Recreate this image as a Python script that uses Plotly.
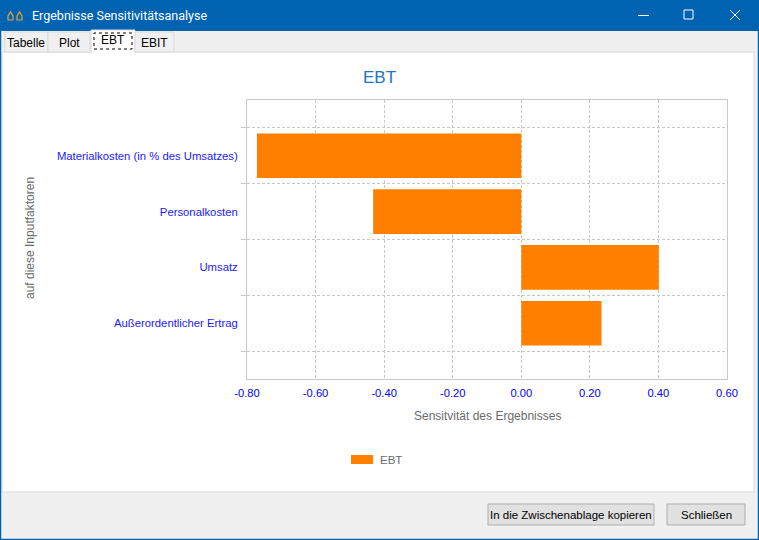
import plotly.graph_objects as go

# ---------------- data ----------------
categories = ["Außerordentlicher Ertrag", "Umsatz", "Personalkosten",
              "Materialkosten (in % des Umsatzes)"]
ebt_values = [0.234, 0.401, -0.432, -0.771]
series_name = "EBT"
x_ticks = [-0.8, -0.6, -0.4, -0.2, 0.0, 0.2, 0.4, 0.6]
x_tick_labels = [f"{v:.2f}" for v in x_ticks]
chart_title = "EBT"
x_title = "Sensitvität des Ergebnisses"
y_title = "auf diese Inputfaktoren"
window_title = "Ergebnisse Sensitivitätsanalyse"
tabs = ["Tabelle", "Plot", "EBT", "EBIT"]
buttons = ["In die Zwischenablage kopieren", "Schließen"]

W, H = 759, 540


def px(x):
    return x / W


def py(y):
    return 1 - y / H


fig = go.Figure()
fig.add_trace(go.Bar(
    x=ebt_values, y=categories, orientation="h", name=series_name,
    marker=dict(color="#ff8000", line=dict(width=0)), width=0.8,
    showlegend=False, hoverinfo="x+y",
))

shapes = []
annotations = []


def rect(x0, y0, x1, y1, fill, line=None, lw=1, dash=None, layer="below"):
    d = dict(type="rect", xref="paper", yref="paper",
             x0=px(x0), x1=px(x1), y0=py(y1), y1=py(y0),
             fillcolor=fill, layer=layer,
             line=dict(width=lw if line else 0, color=line or "rgba(0,0,0,0)"))
    if dash:
        d["line"]["dash"] = dash
    shapes.append(d)


def line(x0, y0, x1, y1, color, w=1, layer="above"):
    shapes.append(dict(type="line", xref="paper", yref="paper",
                       x0=px(x0), x1=px(x1), y0=py(y0), y1=py(y1),
                       line=dict(color=color, width=w), layer=layer))


def text(x, y, s, size=12, color="black", family="Liberation Sans, Arial",
         xa="center", ya="middle", angle=0):
    annotations.append(dict(xref="paper", yref="paper", x=px(x), y=py(y),
                            text=s, showarrow=False, xanchor=xa, yanchor=ya,
                            textangle=angle,
                            font=dict(size=size, color=color, family=family)))


# window chrome
rect(0, 0, W, 31, "#0063b1")
rect(2, 52, 754, 492, "white", "#dadada")
# tabs
tab_x = [(5, 48), (48, 90), (91, 135), (135, 174)]
for t, (a, b) in zip(tabs, tab_x):
    if t == "EBT":
        rect(a, 30, b, 53, "white", "#d9d9d9")
        rect(a + 1, 50, b - 1, 54, "white")
        rect(a + 3, 33, b - 3, 49, "rgba(0,0,0,0)", "black", 1, "dot")
        text((a + b) / 2, 40.5, t, 12)
    else:
        rect(a, 32, b, 52, "#f0f0f0", "#d9d9d9")
        text((a + b) / 2, 43, t, 12)
# title bar
text(30, 15.5, window_title, 12.5, "white", "Roboto, Noto Sans", xa="left")
for cx in (10.5, 19.5):
    shapes.append(dict(type="path", xref="paper", yref="paper",
                       path=f"M {px(cx-2.5)},{py(20)} L {px(cx+2.5)},{py(20)} L {px(cx+2.5)},{py(16)} "
                            f"L {px(cx)},{py(12)} L {px(cx-2.5)},{py(16)} Z",
                       fillcolor="rgba(0,0,0,0)", line=dict(color="#e8a040", width=1.2)))
line(638, 15.5, 649, 15.5, "white", 1)
rect(684, 10, 693, 19, "rgba(0,0,0,0)", "white", 1, layer="above")
line(730, 10, 740, 20, "white", 1)
line(730, 20, 740, 10, "white", 1)
# window border
line(0.5, 0, 0.5, H, "#0063b1", 1.5)
line(758.5, 0, 758.5, H, "#0063b1", 1.5)
line(0, 539.5, W, 539.5, "#0063b1", 1.5)
# bottom buttons
btn_x = [(488, 654), (667, 745)]
for b, (a, c) in zip(buttons, btn_x):
    rect(a, 504, c, 525, "#e1e1e1", "#adadad")
    text((a + c) / 2, 515, b, 11.5)

# chart texts
text(379, 77, chart_title, 17, "#1f73c0")
text(487, 416, x_title, 12, "#6a6a6a")
text(30, 238, y_title, 12, "#6a6a6a", angle=-90)
# legend
rect(351, 455, 373, 464, "#ff8000")
text(378, 460, series_name, 11.5, "#6a6a6a", xa="left")

grid = "#c8c8c8"
fig.update_layout(
    width=W, height=H, margin=dict(l=0, r=0, t=0, b=0, pad=0, autoexpand=False),
    paper_bgcolor="#f0f0f0", plot_bgcolor="white",
    shapes=shapes, annotations=annotations, showlegend=False,
    bargap=0.2,
    xaxis=dict(
        domain=[px(247), px(727)], range=[-0.8, 0.6], tickvals=x_ticks,
        ticktext=x_tick_labels, automargin=False,
        showgrid=True, gridcolor=grid, griddash="3px,2px",
        gridwidth=1, zeroline=False, showline=True, linecolor=grid,
        linewidth=1, mirror=True, ticks="", ticklabelstandoff=4,
        tickfont=dict(size=11.2, color="#0000ff", family="Liberation Sans, Arial"),
        fixedrange=True,
    ),
    yaxis=dict(
        domain=[py(379), py(100)], type="category", range=[-1, 4],
        categoryorder="array", categoryarray=categories, automargin=False,
        tickson="boundaries", ticks="outside", ticklen=5, tickcolor=grid,
        showgrid=True, gridcolor=grid, griddash="3px,2px", gridwidth=1,
        showline=True, linecolor=grid, linewidth=1, mirror=True,
        ticklabelstandoff=6,
        tickfont=dict(size=11.3, color="#1a1aff", family="Liberation Sans, Arial"),
        fixedrange=True,
    ),
)

fig.write_html("out.html", config={"displayModeBar": False},
               post_script="document.body.style.margin='0';document.body.style.overflow='hidden';")
